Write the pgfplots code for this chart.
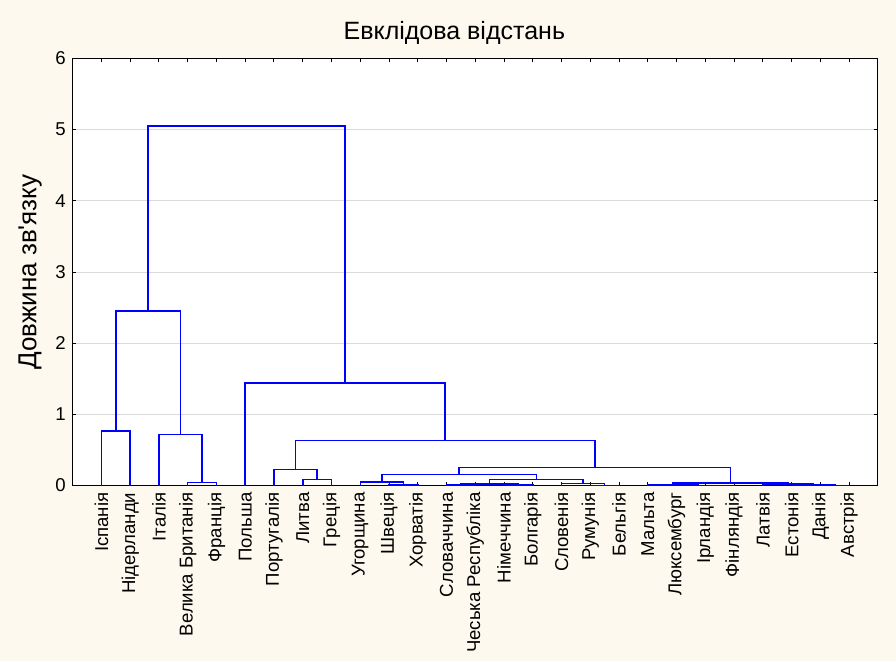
\documentclass[border=0pt]{standalone}
\usepackage{pgfplots}
\pgfplotsset{compat=1.18}
\usepackage{fontspec}
\setmainfont{Liberation Sans}[Ligatures=TeXOff]
\definecolor{bgcream}{RGB}{253,249,238}
\definecolor{gridgray}{RGB}{218,218,218}
\definecolor{dendblue}{RGB}{0,0,255}

\begin{document}
\begin{tikzpicture}
% page background (896 x 661 px, 1 px = 0.5 pt)
\fill[bgcream, use as bounding box] (-36.35pt,-87.75pt) rectangle (411.65pt,242.75pt);
\begin{axis}[
    at={(0,0)}, anchor=south west,
    scale only axis,
    width=402.6pt, height=213.5pt,
    xmin=0, xmax=28, ymin=0, ymax=6,
    axis background/.style={fill=white},
    axis line style={black, line width=0.5pt},
    xtick={1,...,27},
    xticklabels={Іспанія, Нідерланди, Італія, Велика Британія, Франція, Польша,
        Португалія, Литва, Греція, Угорщина, Швеція, Хорватія, Словаччина,
        Чеська Республіка, Німеччина, Болгарія, Словенія, Румунія, Бельгія,
        Мальта, Люксембург, Ірландія, Фінляндія, Латвія, Естонія, Данія, Австрія},
    ytick={0,...,6},
    tick align=inside,
    major tick length=1.8pt,
    tick style={black, line width=0.5pt},
    xticklabel style={rotate=90, anchor=east, font=\fontsize{9.3}{11}\selectfont},
    yticklabel style={font=\fontsize{9.3}{11}\selectfont},
    /pgf/number format/assume math mode=true,
    ymajorgrids,
    grid style={gridgray, line width=0.5pt},
    title={Евклідова відстань},
    every axis title/.style={at={(axis description cs:0.474,1)}, anchor=center,
        yshift=12.9pt, font=\fontsize{12.5}{15}\selectfont},
    ylabel={Довжина зв'язку},
    every axis y label/.style={at={(axis description cs:-0.053,0.5)}, rotate=90,
        anchor=center, font=\fontsize{13}{15}\selectfont},
    clip=false,
    unbounded coords=jump,
]
% each merge: left child up, across, down to right child; nan breaks the path
\addplot[color=dendblue, line width=0.75pt, mark=none] coordinates {
    (4,0) (4,0.045) (5,0.045) (5,0) (0,nan)
    (3,0) (3,0.715) (4.5,0.715) (4.5,0.045) (0,nan)
    (1,0) (1,0.767) (2,0.767) (2,0) (0,nan)
    (1.5,0.767) (1.5,2.45) (3.75,2.45) (3.75,0.715) (0,nan)
    (8,0) (8,0.087) (9,0.087) (9,0) (0,nan)
    (7,0) (7,0.222) (8.5,0.222) (8.5,0.087) (0,nan)
    (11,0) (11,0.01) (12,0.01) (12,0) (0,nan)
    (10,0) (10,0.05) (11.5,0.05) (11.5,0.01) (0,nan)
    (13,0) (13,0.01) (14,0.01) (14,0) (0,nan)
    (15,0) (15,0.005) (16,0.005) (16,0) (0,nan)
    (13.5,0.01) (13.5,0.022) (15.5,0.022) (15.5,0.005) (0,nan)
    (18,0) (18,0.003) (19,0.003) (19,0) (0,nan)
    (17,0) (17,0.028) (18.5,0.028) (18.5,0.003) (0,nan)
    (14.5,0.022) (14.5,0.085) (17.75,0.085) (17.75,0.028) (0,nan)
    (10.75,0.05) (10.75,0.155) (16.125,0.155) (16.125,0.085) (0,nan)
    (22,0) (22,0.002) (23,0.002) (23,0) (0,nan)
    (21,0) (21,0.003) (22.5,0.003) (22.5,0.002) (0,nan)
    (20,0) (20,0.004) (21.75,0.004) (21.75,0.003) (0,nan)
    (26,0) (26,0.003) (27,0.003) (27,0) (0,nan)
    (25,0) (25,0.01) (26.5,0.01) (26.5,0.003) (0,nan)
    (24,0) (24,0.02) (25.75,0.02) (25.75,0.01) (0,nan)
    (20.875,0.004) (20.875,0.032) (24.875,0.032) (24.875,0.02) (0,nan)
    (13.4375,0.155) (13.4375,0.255) (22.875,0.255) (22.875,0.032) (0,nan)
    (7.75,0.222) (7.75,0.63) (18.15625,0.63) (18.15625,0.255) (0,nan)
    (6,0) (6,1.44) (12.953125,1.44) (12.953125,0.63) (0,nan)
    (2.625,2.45) (2.625,5.05) (9.4765625,5.05) (9.4765625,1.44)
};
\end{axis}
\end{tikzpicture}
\end{document}
